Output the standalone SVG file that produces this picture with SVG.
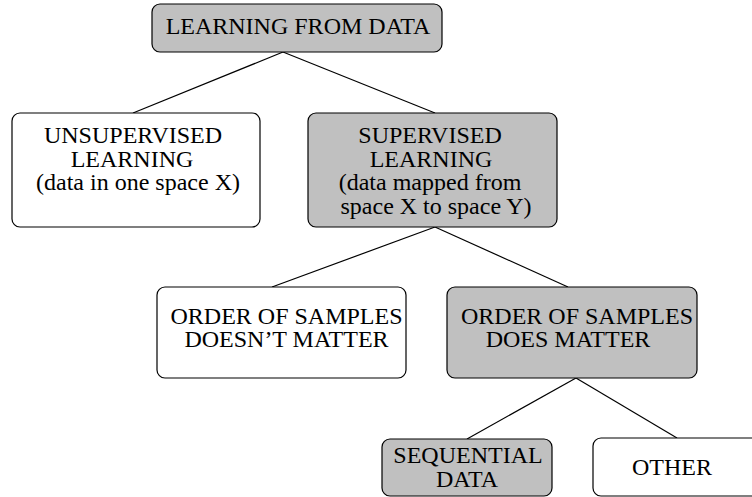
<svg xmlns="http://www.w3.org/2000/svg" width="752" height="497" viewBox="0 0 752 497">
<style>
.box{stroke:#000;stroke-width:1.2}
.g{fill:#c0c0c0}
.w{fill:#fff}
text{font-family:"Liberation Serif","Times New Roman",serif;font-size:24px;fill:#000;text-anchor:middle}
.c line{stroke:#000;stroke-width:1.2}
</style>
<rect width="752" height="497" fill="#fff"/>
<g class="c" id="connectors">
<line x1="283" y1="52" x2="133" y2="113"/>
<line x1="283" y1="52" x2="435" y2="113"/>
<line x1="435" y1="227" x2="272" y2="287"/>
<line x1="435" y1="227" x2="568" y2="287"/>
<line x1="576" y1="378" x2="467" y2="439"/>
<line x1="576" y1="378" x2="677" y2="438"/>
</g>
<g id="learning">
<rect class="box g" x="152" y="4" width="290" height="48" rx="8"/>
<text x="298" y="34">LEARNING FROM DATA</text>
</g>
<g id="unsupervised">
<rect class="box w" x="12" y="113" width="248" height="114" rx="8"/>
<text x="133" y="143">UNSUPERVISED</text>
<text x="132" y="167">LEARNING</text>
<text x="138" y="190">(data in one space X)</text>
</g>
<g id="supervised">
<rect class="box g" x="308" y="113" width="249" height="114" rx="8"/>
<text x="430" y="143">SUPERVISED</text>
<text x="431" y="167">LEARNING</text>
<text x="430" y="190">(data mapped from</text>
<text x="436" y="214">space X to space Y)</text>
</g>
<g id="order-doesnt">
<rect class="box w" x="157" y="287" width="249" height="91" rx="8"/>
<text x="286.5" y="324">ORDER OF SAMPLES</text>
<text x="286.5" y="347">DOESN’T MATTER</text>
</g>
<g id="order-does">
<rect class="box g" x="447" y="287" width="250" height="91" rx="8"/>
<text x="577" y="324">ORDER OF SAMPLES</text>
<text x="568" y="347">DOES MATTER</text>
</g>
<g id="sequential">
<rect class="box g" x="382" y="439" width="170" height="57" rx="8"/>
<text x="468" y="463">SEQUENTIAL</text>
<text x="467" y="487">DATA</text>
</g>
<g id="other">
<rect class="box w" x="593" y="438" width="180" height="58" rx="8"/>
<text x="672" y="475">OTHER</text>
</g>
</svg>
